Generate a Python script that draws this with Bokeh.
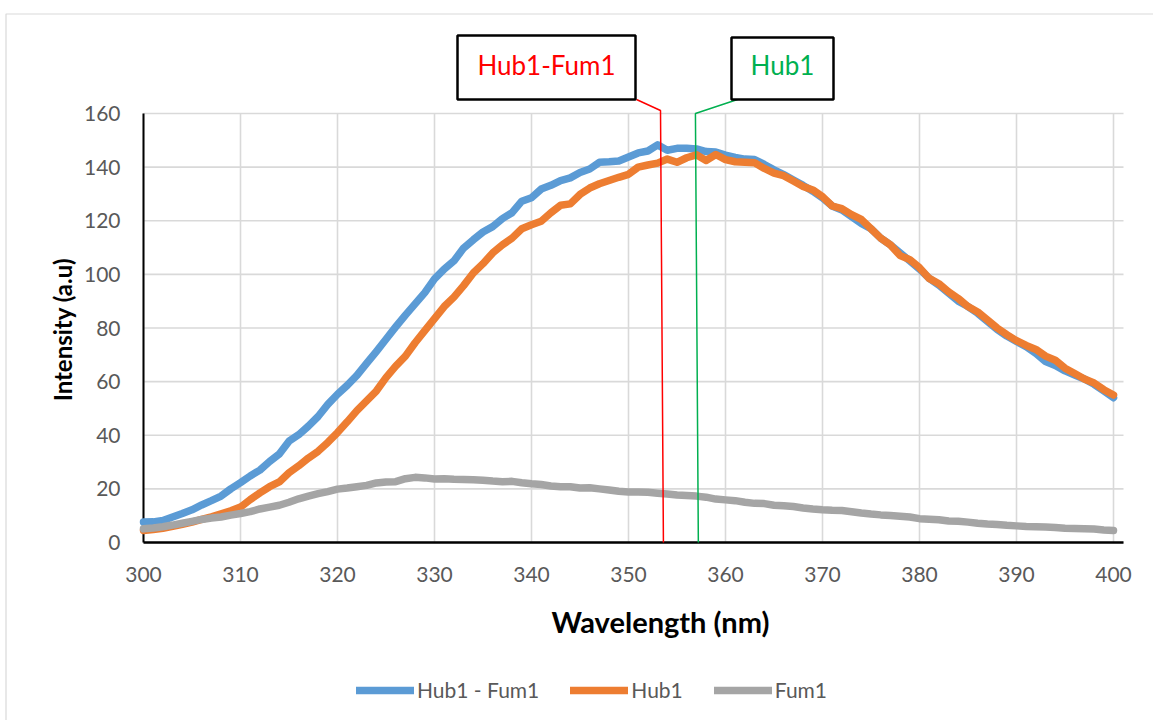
from bokeh.plotting import figure
from bokeh.models import Range1d, Legend, LegendItem
from bokeh.core.properties import value
from bokeh.embed import file_html
from bokeh.resources import INLINE
import math

# ---------------- data ----------------
wavelength = list(range(300, 401))

hub1_minus_fum1 = [
    7.6, 7.7, 8.2, 9.5, 10.8, 12.2, 14.0, 15.6, 17.3, 20.0,
    22.3, 24.8, 27.0, 30.2, 33.0, 37.8, 40.2, 43.4, 47.0, 51.5,
    55.3, 58.6, 62.3, 66.8, 71.2, 75.8, 80.4, 84.8, 89.0, 93.2,
    98.3, 102.0, 105.0, 109.8, 112.9, 115.8, 117.8, 120.8, 123.0, 127.3,
    128.6, 131.8, 133.2, 135.0, 136.0, 138.0, 139.3, 141.8, 142.0, 142.3,
    143.8, 145.3, 146.0, 148.3, 146.3, 147.0, 147.0, 146.8, 145.8, 145.6,
    144.5, 143.6, 143.0, 142.8, 141.0, 139.0, 137.2, 135.2, 133.2, 131.0,
    128.5, 125.5, 124.0, 121.5, 119.0, 117.0, 113.5, 111.0, 108.0, 105.0,
    102.0, 98.5, 96.0, 93.0, 90.0, 88.0, 85.5, 82.5, 79.5, 77.0,
    75.0, 73.0, 70.5, 67.5, 66.0, 64.0, 62.5, 61.0, 59.0, 56.5,
    54.0,
]

hub1 = [
    4.5, 4.8, 5.3, 6.0, 6.8, 7.6, 8.6, 9.6, 10.7, 11.8,
    13.2, 16.0, 18.5, 20.8, 22.6, 26.0, 28.6, 31.5, 34.0, 37.3,
    41.0, 45.0, 49.2, 52.8, 56.5, 61.5, 65.8, 69.5, 74.5, 79.0,
    83.5, 88.0, 91.5, 95.8, 100.5, 104.0, 108.0, 111.0, 113.5, 117.0,
    118.5, 119.8, 123.0, 125.8, 126.3, 129.8, 132.2, 133.8, 135.0, 136.2,
    137.3, 140.0, 140.8, 141.5, 143.0, 141.8, 143.5, 144.6, 142.5, 144.7,
    142.8, 142.0, 141.8, 141.6, 139.5, 137.8, 136.8, 134.8, 132.8, 131.5,
    129.0, 125.5, 124.5, 122.3, 120.5, 117.0, 113.5, 111.0, 107.0, 105.5,
    102.5, 98.5, 96.5, 93.5, 91.0, 88.0, 86.0, 83.0, 80.0, 77.5,
    75.3, 73.5, 72.0, 69.5, 68.0, 65.0, 63.0, 61.0, 59.5, 57.0,
    55.0,
]

fum1 = [
    5.1, 5.4, 5.9, 6.5, 7.2, 7.9, 8.6, 9.1, 9.5, 10.2,
    10.8, 11.5, 12.5, 13.2, 13.9, 15.0, 16.3, 17.3, 18.2, 19.0,
    19.9, 20.3, 20.8, 21.3, 22.2, 22.6, 22.7, 23.8, 24.3, 24.1,
    23.7, 23.8, 23.6, 23.5, 23.4, 23.2, 22.9, 22.7, 22.8, 22.3,
    21.9, 21.6, 21.1, 20.8, 20.8, 20.3, 20.4, 20.0, 19.6, 19.1,
    18.8, 18.8, 18.7, 18.4, 18.1, 17.7, 17.5, 17.3, 16.9, 16.2,
    15.9, 15.6, 15.0, 14.6, 14.5, 13.9, 13.7, 13.4, 12.9, 12.5,
    12.2, 12.0, 11.9, 11.5, 11.0, 10.6, 10.3, 10.1, 9.8, 9.5,
    8.9, 8.7, 8.5, 8.0, 7.9, 7.6, 7.2, 6.9, 6.7, 6.4,
    6.2, 6.0, 5.9, 5.8, 5.6, 5.3, 5.2, 5.1, 5.0, 4.7,
    4.5,
]

series_names = ["Hub1 - Fum1", "Hub1", "Fum1"]
x_ticks = [300, 310, 320, 330, 340, 350, 360, 370, 380, 390, 400]
y_ticks = [0, 20, 40, 60, 80, 100, 120, 140, 160]
x_title = "Wavelength (nm)"
y_title = "Intensity (a.u)"

# callout annotations (peak markers)
callout_texts = ["Hub1-Fum1", "Hub1"]
callout_peaks = [353.4, 357.0]

# ---------------- layout / styles ----------------
W, H = 1153, 720
# pixel geometry of the plot area: x=300 at px 143, 9.7 px per nm; y=0 at py 542, 2.68125 px per unit
PX0, PXU = 143.0, 9.7
PY0, PYU = 542.0, 2.68125


def px2x(px):
    return 300 + (px - PX0) / PXU


def py2y(py):
    return (PY0 - py) / PYU


COLORS = ["#5B9BD5", "#ED7D31", "#A5A5A5"]
CALLOUT_COLORS = ["#FF0000", "#00B050"]
FONT = "Lato"
GRID = "#D9D9D9"
TICK_TXT = "#595959"
XMAX = px2x(1123)
YMAX = y_ticks[-1]

p = figure(
    width=W, height=H,
    x_range=Range1d(px2x(0), px2x(W)), y_range=Range1d(py2y(H), py2y(0)),
    x_axis_type=None, y_axis_type=None, title=None,
    output_backend="svg", toolbar_location=None,
    min_border=0,
)
p.outline_line_color = None
p.background_fill_color = "white"
p.border_fill_color = "white"

# chart-area border (top & left)
p.line([px2x(5.5), px2x(5.5), px2x(W + 5)], [py2y(H + 5), py2y(13.5), py2y(13.5)],
       line_color="#D9D9D9", line_width=1.2)

# gridlines drawn from tick arrays
p.segment(x0=[x_ticks[0]] * len(y_ticks), x1=[XMAX] * len(y_ticks), y0=y_ticks, y1=y_ticks,
          line_color=GRID, line_width=1.6)
p.segment(x0=x_ticks, x1=x_ticks, y0=[0] * len(x_ticks), y1=[YMAX] * len(x_ticks),
          line_color=GRID, line_width=1.6)
# axis lines
p.segment(x0=[x_ticks[0]], x1=[x_ticks[0]], y0=[0], y1=[YMAX], line_color="black", line_width=2)
p.segment(x0=[x_ticks[0]], x1=[XMAX], y0=[0], y1=[0], line_color="black", line_width=2.5)

# tick labels
p.text(x=[px2x(120)] * len(y_ticks), y=y_ticks, text=[str(t) for t in y_ticks],
       text_align="right", text_baseline="middle", text_font=value(FONT),
       text_font_size="21px", text_color=TICK_TXT)
p.text(x=x_ticks, y=[py2y(574)] * len(x_ticks), text=[str(t) for t in x_ticks],
       text_align="center", text_baseline="middle", text_font=value(FONT),
       text_font_size="21px", text_color=TICK_TXT)

# axis titles
p.text(x=[px2x(660)], y=[py2y(621)], text=[x_title], text_align="center",
       text_baseline="middle", text_font=value(FONT), text_font_size="29px",
       text_font_style="bold", text_color="black")
p.text(x=[px2x(62)], y=[py2y(329)], text=[y_title], angle=math.pi / 2,
       text_align="center", text_baseline="middle", text_font=value(FONT),
       text_font_size="24px", text_font_style="bold", text_color="black")

# series
renderers = []
for ys, c in zip([hub1_minus_fum1, hub1, fum1], COLORS):
    r = p.line(wavelength, ys, line_color=c, line_width=7.5, line_cap="round", line_join="round")
    renderers.append(r)

# callouts: leader lines + boxes
box_left = [px2x(457), px2x(731)]
box_right = [px2x(635), px2x(833)]
box_top = [py2y(35), py2y(37)]
box_bottom = [py2y(99), py2y(99)]
leader_top = [py2y(110), py2y(113)]
leader_join_x = [px2x(636), px2x(737)]
for i in range(2):
    pk = callout_peaks[i]
    p.line([pk + 0.2, pk - 0.1, leader_join_x[i]], [0, leader_top[i], box_bottom[i]],
           line_color=CALLOUT_COLORS[i], line_width=1.5)
p.quad(left=box_left, right=box_right, top=box_top, bottom=box_bottom,
       fill_color="white", line_color="black", line_width=2.5)
p.text(x=[(l + r) / 2 for l, r in zip(box_left, box_right)], y=[py2y(64)] * 2,
       text=callout_texts, text_color=CALLOUT_COLORS, text_align="center",
       text_baseline="middle", text_font=value(FONT), text_font_size="26px")

legend = Legend(
    items=[LegendItem(label=n, renderers=[r]) for n, r in zip(series_names, renderers)],
    orientation="horizontal", location=(356, 18),
    border_line_color=None, background_fill_alpha=0,
    label_text_font=FONT, label_text_font_size="21px", label_text_color=TICK_TXT,
    glyph_width=58, glyph_height=24, label_height=24, label_standoff=3, spacing=31,
    padding=0, margin=0,
)
p.add_layout(legend)

open("out.html", "w").write(file_html(p, INLINE))
